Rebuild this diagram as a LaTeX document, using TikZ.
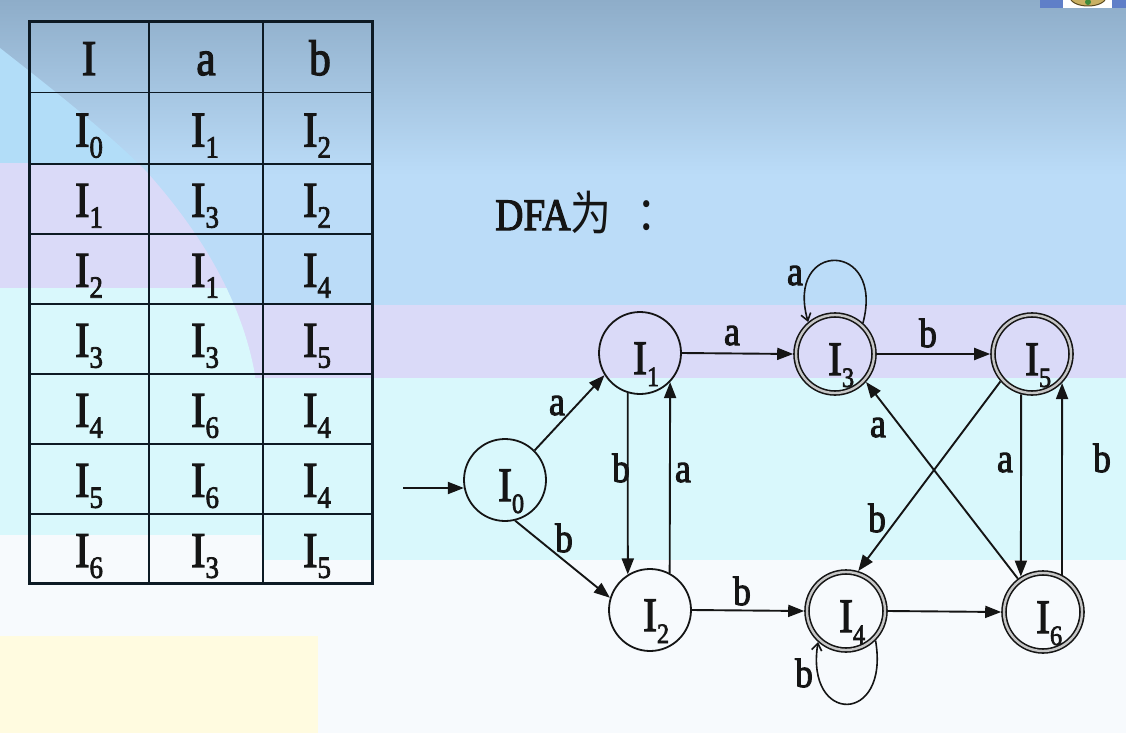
\documentclass[tikz,border=0pt]{standalone}
\usepackage{fontspec}
\setmainfont{Liberation Serif}[FakeBold=2.5]
\newfontfamily\cjk{Noto Sans CJK SC}
\usepackage{graphicx}
\usetikzlibrary{arrows.meta}

\definecolor{bgtop}{HTML}{8EADC9}
\definecolor{bgblue}{HTML}{BBDCF8}
\definecolor{bgltblue}{HTML}{B2DDF8}
\definecolor{bglav}{HTML}{DADAF8}
\definecolor{bgcyan}{HTML}{D9F8FC}
\definecolor{bgwhite}{HTML}{F7FAFD}
\definecolor{bgyellow}{HTML}{FFFBE0}
\definecolor{tabline}{HTML}{0D1A24}
\definecolor{ink}{HTML}{151515}
\definecolor{iconblue}{HTML}{5F7FC8}
\definecolor{iconfill}{HTML}{C9B063}
\definecolor{icondraw}{HTML}{5A4A20}
\definecolor{icongreen}{HTML}{3E8A3A}

\newcommand\nw[1]{\scalebox{0.87}[1]{#1}}
\newcommand\tcell[1]{\nw{I\raisebox{-11pt}{\fontsize{31}{31}\selectfont #1}}}
\newcommand\tstate[1]{\nw{I\rlap{\smash{\raisebox{-12pt}{\fontsize{28}{28}\selectfont #1}}}}}

\tikzset{
  st/.style={circle, draw=ink, line width=1.8pt, minimum size=82pt, inner sep=0pt,
    text=ink, font=\fontsize{48}{48}\selectfont, text height=42pt, text depth=0pt},
  acc/.style={st, double=gray!45, line width=1.6pt, double distance=2.4pt,
    minimum size=78pt, outer sep=2.8pt},
  edge/.style={draw=ink, line width=1.9pt, -{Triangle[length=16pt,width=12pt]}},
  loopedge/.style={draw=ink, line width=1.6pt, -{Straight Barb[length=7pt,width=10pt]}},
  lab/.style={anchor=base, inner sep=0pt, text=ink, font=\fontsize{41}{41}\selectfont},
  tab/.style={anchor=base, inner sep=0pt, text=ink, font=\fontsize{50}{50}\selectfont},
  tabrule/.style={draw=tabline, line width=1.8pt},
}

\begin{document}
\begin{tikzpicture}[x=1pt, y=-1pt]
\useasboundingbox (0,0) rectangle (1126,733);
% ---------- background ----------
\fill[bgwhite] (0,0) rectangle (1126,733);
\shade[top color=bgtop, bottom color=bgblue] (0,0) rectangle (1126,175);
\fill[bgblue] (0,174) rectangle (1126,306);
\fill[bglav] (0,305) rectangle (1126,379);
\fill[bgcyan] (0,378) rectangle (1126,560);
\begin{scope}
  \clip (0,48) .. controls (60,95) and (110,135) .. (145,170)
        .. controls (190,220) and (240,290) .. (255,375)
        -- (262,560) -- (0,560) -- cycle;
  \fill[bgltblue] (0,30) rectangle (400,164);
  \fill[bglav] (0,163) rectangle (400,289);
  \fill[bgcyan] (0,288) rectangle (400,536);
  \fill[bgwhite] (0,535) rectangle (400,561);
\end{scope}
\fill[bgyellow] (0,636) rectangle (318,733);
% top-right icon
\fill[iconblue] (1040,0) rectangle (1126,8);
\fill[white] (1063,0) rectangle (1112,8);
\filldraw[fill=iconfill, draw=icondraw, line width=1pt] (1088,-3) ellipse [x radius=18pt, y radius=9pt];
\fill[icongreen] (1088,2) circle [radius=3pt];

% ---------- table ----------
\draw[tabrule] (149,21.7) -- (149,583) (263,21.7) -- (263,583);
\foreach \yy in {92.6,163.6,233.8,303.9,374,444,514}
  \draw[tabrule] (29,\yy) -- (372,\yy);
\draw[draw=tabline, line width=3pt] (29,21.7) rectangle (372,583);

\node[tab] (h1) at (89,75) {\nw{I}};
\node[tab] (h2) at (206,75) {\nw{a}};
\node[tab] (h3) at (320,75) {\nw{b}};
\foreach \a/\b/\c [count=\r] in {0/1/2, 1/3/2, 2/1/4, 3/3/5, 4/6/4, 5/6/4, 6/3/5} {
  \pgfmathsetmacro\yb{92.6+70.05*(\r-1)+54}
  \node[tab] (r\r a) at (89,\yb) {\tcell{\a}};
  \node[tab] (r\r b) at (205,\yb) {\tcell{\b}};
  \node[tab] (r\r c) at (317,\yb) {\tcell{\c}};
}

% ---------- title ----------
\node[anchor=base west, inner sep=0pt, text=ink, font=\fontsize{45}{45}\selectfont]
  (dfa) at (495,230) {\nw{DFA{\cjk\fontsize{47}{47}\selectfont 为\hspace{29pt}：}}};

% ---------- states ----------
\node[st]  (I0) at (505,480) {\tstate{0}};
\node[st]  (I1) at (640,353) {\tstate{1}};
\node[st]  (I2) at (650,610) {\tstate{2}};
\node[acc] (I3) at (835,354) {\tstate{3}};
\node[acc] (I5) at (1032,354) {\tstate{5}};
\node[acc] (I4) at (846,611) {\tstate{4}};
\node[acc] (I6) at (1043,612) {\tstate{6}};

% ---------- transitions ----------
\coordinate (s0) at (403,488);
\draw[edge] (s0) -- (I0.191);
\draw[edge] (I0.45) -- (I1.212);
\draw[edge] (I0.284) -- (I2.163);
\draw[edge] (I1.253) -- (I2.122);
\draw[edge] (I2.62) -- (I1.316);
\draw[edge] (I1.east) -- (I3.west);
\draw[edge] (I3.east) -- (I5.west);
\draw[edge] (I2.east) -- (I4.west);
\draw[edge] (I4.east) -- (I6.west);
\draw[edge] (I5.255) -- (I6.122);
\draw[edge] (I6.63) -- (I5.316);
\draw[edge] (I6.127) -- (I3.318);
\draw[edge] (I5.221) -- (I4.73);
\draw[loopedge] (I3.48) .. controls (885,240) and (785,240) .. (I3.130);
\draw[loopedge] (I4.315) .. controls (890,725) and (805,725) .. (I4.228);

% ---------- labels ----------
\node[lab] (l01) at (557,415) {\nw{a}};
\node[lab] (l02) at (564,552) {\nw{b}};
\node[lab] (l12) at (621,482) {\nw{b}};
\node[lab] (l21) at (683,482) {\nw{a}};
\node[lab] (l13) at (732,345) {\nw{a}};
\node[lab] (l35) at (928,347) {\nw{b}};
\node[lab] (l24) at (742,605) {\nw{b}};
\node[lab] (l33) at (795,285) {\nw{a}};
\node[lab] (l44) at (804,687) {\nw{b}};
\node[lab] (l63) at (878,437) {\nw{a}};
\node[lab] (l54) at (877,532) {\nw{b}};
\node[lab] (l56) at (1005,472) {\nw{a}};
\node[lab] (l65) at (1102,472) {\nw{b}};
\end{tikzpicture}
\end{document}
